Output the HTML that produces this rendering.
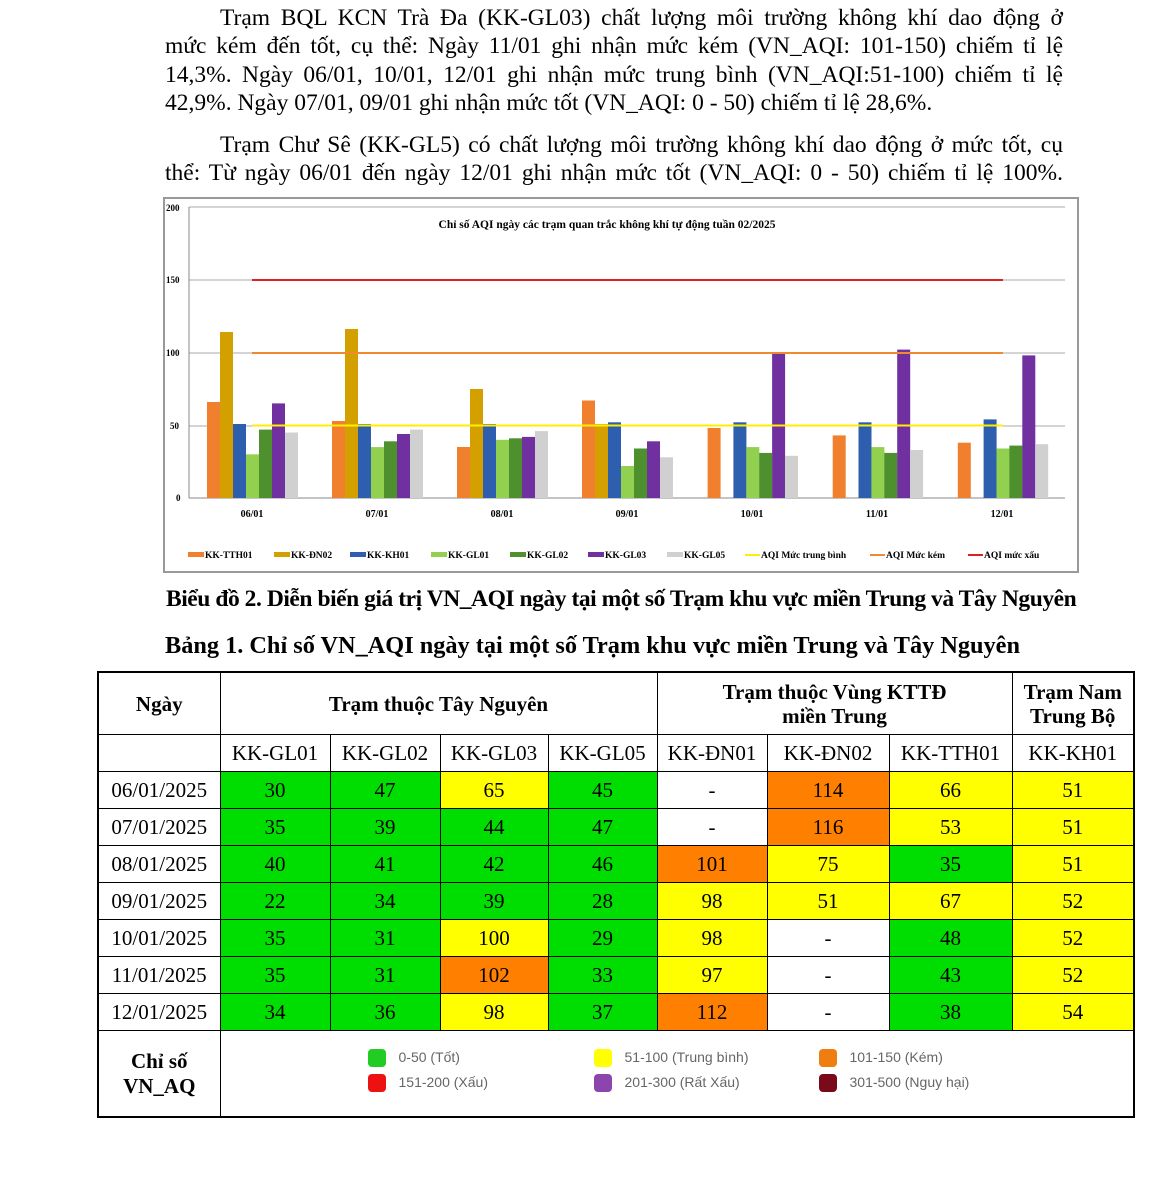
<!DOCTYPE html>
<html><head><meta charset="utf-8"><style>
body{margin:0;width:1150px;height:1200px;background:#fff;position:relative;overflow:hidden;font-family:"Liberation Serif",serif;}
.l{position:absolute;left:165px;width:898px;font-size:23.5px;line-height:28px;white-space:nowrap;}
.j{text-align:justify;text-align-last:justify;white-space:normal;}
.cap{position:absolute;font-weight:bold;font-size:21px;white-space:nowrap;}
table{position:absolute;left:97px;top:671px;border-collapse:collapse;border:2px solid #000;font-size:21px;}
td{border:1px solid #000;text-align:center;padding:0;height:36px;}
.g{background:#00dd00}.y{background:#ffff00}.o{background:#ff8000}
.h td{font-weight:bold;height:61px;line-height:24px}
</style></head><body>
<div class="l j" style="top:4px;padding-left:55px;width:843px">Trạm BQL KCN Trà Đa (KK-GL03) chất lượng môi trường không khí dao động ở</div>
<div class="l j" style="top:32px">mức kém đến tốt, cụ thể: Ngày 11/01 ghi nhận mức kém (VN_AQI: 101-150) chiếm tỉ lệ</div>
<div class="l j" style="top:61px">14,3%. Ngày 06/01, 10/01, 12/01 ghi nhận mức trung bình (VN_AQI:51-100) chiếm tỉ lệ</div>
<div class="l" style="top:89px">42,9%. Ngày 07/01, 09/01 ghi nhận mức tốt (VN_AQI: 0 - 50) chiếm tỉ lệ 28,6%.</div>
<div class="l j" style="top:131px;padding-left:55px;width:843px">Trạm Chư Sê (KK-GL5) có chất lượng môi trường không khí dao động ở mức tốt, cụ</div>
<div class="l j" style="top:159px">thể: Từ ngày 06/01 đến ngày 12/01 ghi nhận mức tốt (VN_AQI: 0 - 50) chiếm tỉ lệ 100%.</div>

<svg style="position:absolute;left:0;top:0" width="1150" height="600">
<rect x="164" y="198" width="914" height="374" fill="#fff" stroke="#999" stroke-width="2"/>
<g font-family="Liberation Serif" font-weight="bold" font-size="9" fill="#000">
<text x="166" y="211">200</text><text x="166" y="283">150</text><text x="166" y="356">100</text><text x="170" y="429">50</text><text x="176" y="501">0</text>
<text x="607" y="228" text-anchor="middle" font-size="11.5">Chỉ số AQI ngày các trạm quan trắc không khí tự động tuần 02/2025</text>
</g>
<g stroke="#aaa" stroke-width="1"><line x1="189" y1="207" x2="1065" y2="207"/><line x1="189" y1="280" x2="1065" y2="280"/><line x1="189" y1="353" x2="1065" y2="353"/><line x1="189" y1="426" x2="1065" y2="426"/></g>
<line x1="189" y1="207" x2="189" y2="498" stroke="#888"/>
<line x1="189" y1="498" x2="1065" y2="498" stroke="#888"/>
<g fill="#f07f2e"><rect x="207" y="402" width="13" height="96"/><rect x="332" y="421" width="13" height="77"/><rect x="457" y="447" width="13" height="51"/><rect x="582" y="400.5" width="13" height="97.5"/><rect x="707.6" y="428" width="13" height="70"/><rect x="832.7" y="435.4" width="13" height="62.6"/><rect x="957.8" y="442.7" width="13" height="55.3"/></g>
<g fill="#d4a000"><rect x="220" y="332" width="13" height="166"/><rect x="345" y="329" width="13" height="169"/><rect x="470" y="389" width="13" height="109"/><rect x="595" y="424" width="13" height="74"/></g>
<g fill="#2e5fae"><rect x="233" y="424" width="13" height="74"/><rect x="358" y="424" width="13" height="74"/><rect x="483" y="424" width="13" height="74"/><rect x="608" y="422.3" width="13" height="75.7"/><rect x="733.4" y="422.3" width="13" height="75.7"/><rect x="858.5" y="422.3" width="13" height="75.7"/><rect x="983.6" y="419.4" width="13" height="78.6"/></g>
<g fill="#92d050"><rect x="246" y="454.3" width="13" height="43.7"/><rect x="371" y="447.1" width="13" height="50.9"/><rect x="496" y="439.8" width="13" height="58.2"/><rect x="621" y="466" width="13" height="32"/><rect x="746.3" y="447.1" width="13" height="50.9"/><rect x="871.4" y="447.1" width="13" height="50.9"/><rect x="996.5" y="448.5" width="13" height="49.5"/></g>
<g fill="#4e8f2e"><rect x="259" y="429.6" width="13" height="68.4"/><rect x="384" y="441.3" width="13" height="56.7"/><rect x="509" y="438.3" width="13" height="59.7"/><rect x="634" y="448.5" width="13" height="49.5"/><rect x="759.2" y="452.9" width="13" height="45.1"/><rect x="884.3" y="452.9" width="13" height="45.1"/><rect x="1009.4" y="445.6" width="13" height="52.4"/></g>
<g fill="#7030a0"><rect x="272" y="403.4" width="13" height="94.6"/><rect x="397" y="434" width="13" height="64"/><rect x="522" y="436.9" width="13" height="61.1"/><rect x="647" y="441.3" width="13" height="56.7"/><rect x="772.1" y="352.5" width="13" height="145.5"/><rect x="897.2" y="349.6" width="13" height="148.4"/><rect x="1022.3" y="355.4" width="13" height="142.6"/></g>
<g fill="#d0d0d0"><rect x="285" y="432.5" width="13" height="65.5"/><rect x="410" y="429.6" width="13" height="68.4"/><rect x="535" y="431.1" width="13" height="66.9"/><rect x="660" y="457.3" width="13" height="40.7"/><rect x="785" y="455.8" width="13" height="42.2"/><rect x="910.1" y="450" width="13" height="48"/><rect x="1035.2" y="444.2" width="13" height="53.8"/></g>
<line x1="252" y1="280" x2="1003" y2="280" stroke="#e02020" stroke-width="2"/>
<line x1="252" y1="353" x2="1003" y2="353" stroke="#f08a30" stroke-width="2"/>
<line x1="252" y1="425.5" x2="1003" y2="425.5" stroke="#ffee00" stroke-width="2"/>
<g font-family="Liberation Serif" font-weight="bold" font-size="10" text-anchor="middle">
<text x="252" y="517">06/01</text><text x="377" y="517">07/01</text><text x="502" y="517">08/01</text><text x="627" y="517">09/01</text><text x="752" y="517">10/01</text><text x="877" y="517">11/01</text><text x="1002" y="517">12/01</text>
</g>
<g font-family="Liberation Serif" font-weight="bold" font-size="9.5">
<rect x="188" y="552" width="16" height="5" fill="#f07f2e"/><text x="205" y="558">KK-TTH01</text>
<rect x="274" y="552" width="16" height="5" fill="#d4a000"/><text x="291" y="558">KK-ĐN02</text>
<rect x="350" y="552" width="16" height="5" fill="#2e5fae"/><text x="367" y="558">KK-KH01</text>
<rect x="431" y="552" width="16" height="5" fill="#92d050"/><text x="448" y="558">KK-GL01</text>
<rect x="510" y="552" width="16" height="5" fill="#4e8f2e"/><text x="527" y="558">KK-GL02</text>
<rect x="588" y="552" width="16" height="5" fill="#7030a0"/><text x="605" y="558">KK-GL03</text>
<rect x="667" y="552" width="16" height="5" fill="#d0d0d0"/><text x="684" y="558">KK-GL05</text>
<line x1="745" y1="555" x2="760" y2="555" stroke="#ffee00" stroke-width="2"/><text x="761" y="558">AQI Mức trung bình</text>
<line x1="870" y1="555" x2="885" y2="555" stroke="#f08a30" stroke-width="2"/><text x="886" y="558">AQI Mức kém</text>
<line x1="968" y1="555" x2="983" y2="555" stroke="#e02020" stroke-width="2"/><text x="984" y="558">AQI mức xấu</text>
</g>
</svg>

<div class="cap" style="left:166px;top:586px;font-size:23.5px;letter-spacing:-0.45px">Biểu đồ 2. Diễn biến giá trị VN_AQI ngày tại một số Trạm khu vực miền Trung và Tây Nguyên</div>
<div class="cap" style="left:165px;top:632px;font-size:24.3px">Bảng 1. Chỉ số VN_AQI ngày tại một số Trạm khu vực miền Trung và Tây Nguyên</div>

<table>
<colgroup><col style="width:122px"><col style="width:110px"><col style="width:110px"><col style="width:108px"><col style="width:109px"><col style="width:110px"><col style="width:122px"><col style="width:123px"><col style="width:122px"></colgroup>
<tr class="h"><td>Ngày</td><td colspan="4">Trạm thuộc Tây Nguyên</td><td colspan="3">Trạm thuộc Vùng KTTĐ<br>miền Trung</td><td>Trạm Nam<br>Trung Bộ</td></tr>
<tr><td style="height:34px"></td><td>KK-GL01</td><td>KK-GL02</td><td>KK-GL03</td><td>KK-GL05</td><td>KK-ĐN01</td><td>KK-ĐN02</td><td>KK-TTH01</td><td>KK-KH01</td></tr>
<tr><td>06/01/2025</td><td class="g">30</td><td class="g">47</td><td class="y">65</td><td class="g">45</td><td>-</td><td class="o">114</td><td class="y">66</td><td class="y">51</td></tr>
<tr><td>07/01/2025</td><td class="g">35</td><td class="g">39</td><td class="g">44</td><td class="g">47</td><td>-</td><td class="o">116</td><td class="y">53</td><td class="y">51</td></tr>
<tr><td>08/01/2025</td><td class="g">40</td><td class="g">41</td><td class="g">42</td><td class="g">46</td><td class="o">101</td><td class="y">75</td><td class="g">35</td><td class="y">51</td></tr>
<tr><td>09/01/2025</td><td class="g">22</td><td class="g">34</td><td class="g">39</td><td class="g">28</td><td class="y">98</td><td class="y">51</td><td class="y">67</td><td class="y">52</td></tr>
<tr><td>10/01/2025</td><td class="g">35</td><td class="g">31</td><td class="y">100</td><td class="g">29</td><td class="y">98</td><td>-</td><td class="g">48</td><td class="y">52</td></tr>
<tr><td>11/01/2025</td><td class="g">35</td><td class="g">31</td><td class="o">102</td><td class="g">33</td><td class="y">97</td><td>-</td><td class="g">43</td><td class="y">52</td></tr>
<tr><td>12/01/2025</td><td class="g">34</td><td class="g">36</td><td class="y">98</td><td class="g">37</td><td class="o">112</td><td>-</td><td class="g">38</td><td class="y">54</td></tr>
<tr><td style="height:85px;font-weight:bold;line-height:25px">Chỉ số<br>VN_AQ</td><td colspan="8" style="position:relative">
<div style="position:absolute;left:0;top:0;width:914px;height:85px;font-family:'Liberation Sans',sans-serif;font-size:14px;color:#666;text-align:left">
<div style="position:absolute;left:147px;top:18px;width:18px;height:18px;border-radius:4px;background:#22cc22"></div><div style="position:absolute;left:178px;top:18px">0-50 (Tốt)</div>
<div style="position:absolute;left:147px;top:43px;width:18px;height:18px;border-radius:4px;background:#ee1111"></div><div style="position:absolute;left:178px;top:43px">151-200 (Xấu)</div>
<div style="position:absolute;left:373px;top:18px;width:18px;height:18px;border-radius:4px;background:#ffff00"></div><div style="position:absolute;left:404px;top:18px">51-100 (Trung bình)</div>
<div style="position:absolute;left:373px;top:43px;width:18px;height:18px;border-radius:4px;background:#8e44ad"></div><div style="position:absolute;left:404px;top:43px">201-300 (Rất Xấu)</div>
<div style="position:absolute;left:598px;top:18px;width:18px;height:18px;border-radius:4px;background:#f07d10"></div><div style="position:absolute;left:629px;top:18px">101-150 (Kém)</div>
<div style="position:absolute;left:598px;top:43px;width:18px;height:18px;border-radius:4px;background:#7a0a1a"></div><div style="position:absolute;left:629px;top:43px">301-500 (Nguy hại)</div>
</div></td></tr>
</table>
</body></html>
